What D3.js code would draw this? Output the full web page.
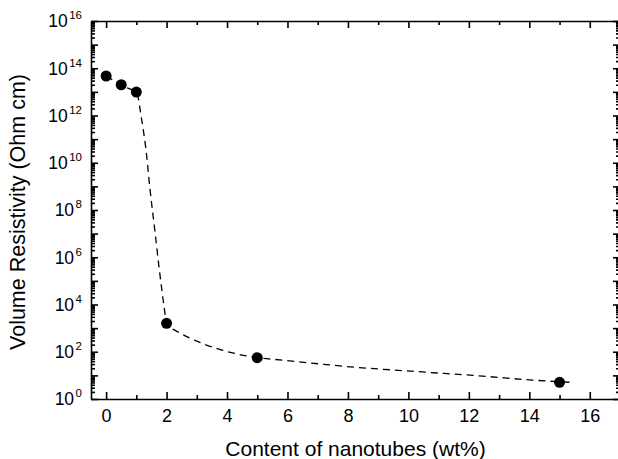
<!DOCTYPE html>
<html>
<head>
<meta charset="utf-8">
<script src="https://cdn.jsdelivr.net/npm/d3@7"></script>
<style>
  body { margin: 0; background: #fff; }
  svg { display: block; font-family: "Liberation Sans", Arial, sans-serif; }
</style>
</head>
<body>
<svg id="chart" width="618" height="459"></svg>
<script>
// measured points
var wtContent = [0, 0.5, 1, 2, 5, 15];
var resistivity = [4.7e13, 2.0e13, 9.8e12, 1.6e3, 56, 5.1];

// dashed guide curve
var fitX = [0, 0.5, 0.74, 1.0, 1.07, 1.14, 1.22, 1.32, 1.45, 1.62, 1.76, 1.92, 2.0, 2.45, 3.0, 3.83, 5.0, 5.85, 8.07, 10.27, 12.46, 14.1, 15.35];
var fitY = [4.7e13, 2.0e13, 1.4e13, 9.5e12, 5e12, 1.3e12, 3e11, 3.5e10, 8e8, 1.1e7, 3e5, 7.8e3, 1.6e3, 620, 280, 118, 56, 44, 23, 14.5, 9.3, 6.3, 5.1];

var xTicks = [0, 2, 4, 6, 8, 10, 12, 14, 16];
var xMinorTicks = [1, 3, 5, 7, 9, 11, 13, 15];
var yExponents = [0, 2, 4, 6, 8, 10, 12, 14, 16];

var margin = {top: 21, left: 91},
	width = 529,
	height = 378;

var svg = d3.select("#chart");
var g = svg.append("g")
	.attr("transform", "translate(" + margin.left + "," + margin.top + ")");

var x = d3.scaleLinear().domain([-0.5, 17]).range([0, width]);
var y = d3.scaleLog().domain([1, 1e16]).range([height, 0]);

var yMajor = d3.range(0, 17).map(function(e) { return Math.pow(10, e); });
var yMinor = [];
d3.range(0, 16).forEach(function(e) {
	d3.range(2, 10).forEach(function(k) { yMinor.push(k * Math.pow(10, e)); });
});

function style(sel) {
	sel.selectAll("path, line").attr("stroke", "#000").attr("stroke-width", 1.6);
	sel.selectAll("text").attr("fill", "#000");
}

// bottom
g.append("g")
	.attr("transform", "translate(0," + height + ")")
	.call(d3.axisBottom(x).tickValues(xTicks).tickSize(-7).tickSizeOuter(0)
		.tickPadding(10).tickFormat(d3.format("d")))
	.call(style)
	.selectAll("text").attr("font-size", 18).attr("font-family", null);
g.append("g")
	.attr("transform", "translate(0," + height + ")")
	.call(d3.axisBottom(x).tickValues(xMinorTicks).tickSize(-4).tickFormat(""))
	.call(style)
	.select(".domain").remove();

// top
g.append("g")
	.call(d3.axisTop(x).tickValues(xTicks).tickSize(-7).tickSizeOuter(0).tickFormat(""))
	.call(style);
g.append("g")
	.call(d3.axisTop(x).tickValues(xMinorTicks).tickSize(-4).tickFormat(""))
	.call(style)
	.select(".domain").remove();

// left
g.append("g")
	.call(d3.axisLeft(y).tickValues(yMajor).tickSize(-7).tickSizeOuter(0).tickFormat(""))
	.call(style);
g.append("g")
	.call(d3.axisLeft(y).tickValues(yMinor).tickSize(-4).tickFormat(""))
	.call(style)
	.select(".domain").remove();

// right
g.append("g")
	.attr("transform", "translate(" + width + ",0)")
	.call(d3.axisRight(y).tickValues(yMajor).tickSize(-7).tickSizeOuter(0).tickFormat(""))
	.call(style);
g.append("g")
	.attr("transform", "translate(" + width + ",0)")
	.call(d3.axisRight(y).tickValues(yMinor).tickSize(-4).tickFormat(""))
	.call(style)
	.select(".domain").remove();

// 10^n labels
var lab = g.append("g").selectAll("text")
	.data(yExponents)
	.enter().append("text")
	.attr("x", -9)
	.attr("y", function(e) { return y(Math.pow(10, e)); })
	.attr("dy", "0.36em")
	.attr("text-anchor", "end")
	.attr("font-size", 17.5);
lab.append("tspan").text("10");
lab.append("tspan")
	.attr("dy", -8)
	.attr("dx", 1.5)
	.attr("font-size", 11.5)
	.text(function(e) { return e; });

// guide curve
var line = d3.line()
	.x(function(d) { return x(d[0]); })
	.y(function(d) { return y(d[1]); })
	.curve(d3.curveMonotoneX);

g.append("path")
	.datum(d3.zip(fitX, fitY))
	.attr("d", line)
	.attr("fill", "none")
	.attr("stroke", "#000")
	.attr("stroke-width", 1.3)
	.attr("stroke-dasharray", "7,5");

g.selectAll("circle.pt")
	.data(d3.zip(wtContent, resistivity))
	.enter().append("circle")
	.attr("class", "pt")
	.attr("cx", function(d) { return x(d[0]); })
	.attr("cy", function(d) { return y(d[1]); })
	.attr("r", 5.5)
	.style("fill", "#000");

// titles
svg.append("text")
	.attr("x", margin.left + width / 2)
	.attr("y", 456)
	.attr("text-anchor", "middle")
	.attr("font-size", 21)
	.text("Content of nanotubes (wt%)");

svg.append("text")
	.attr("transform", "translate(25," + (margin.top + height / 2 + 2) + ") rotate(-90)")
	.attr("text-anchor", "middle")
	.attr("font-size", 21.5)
	.text("Volume Resistivity (Ohm cm)");
</script>
</body>
</html>
